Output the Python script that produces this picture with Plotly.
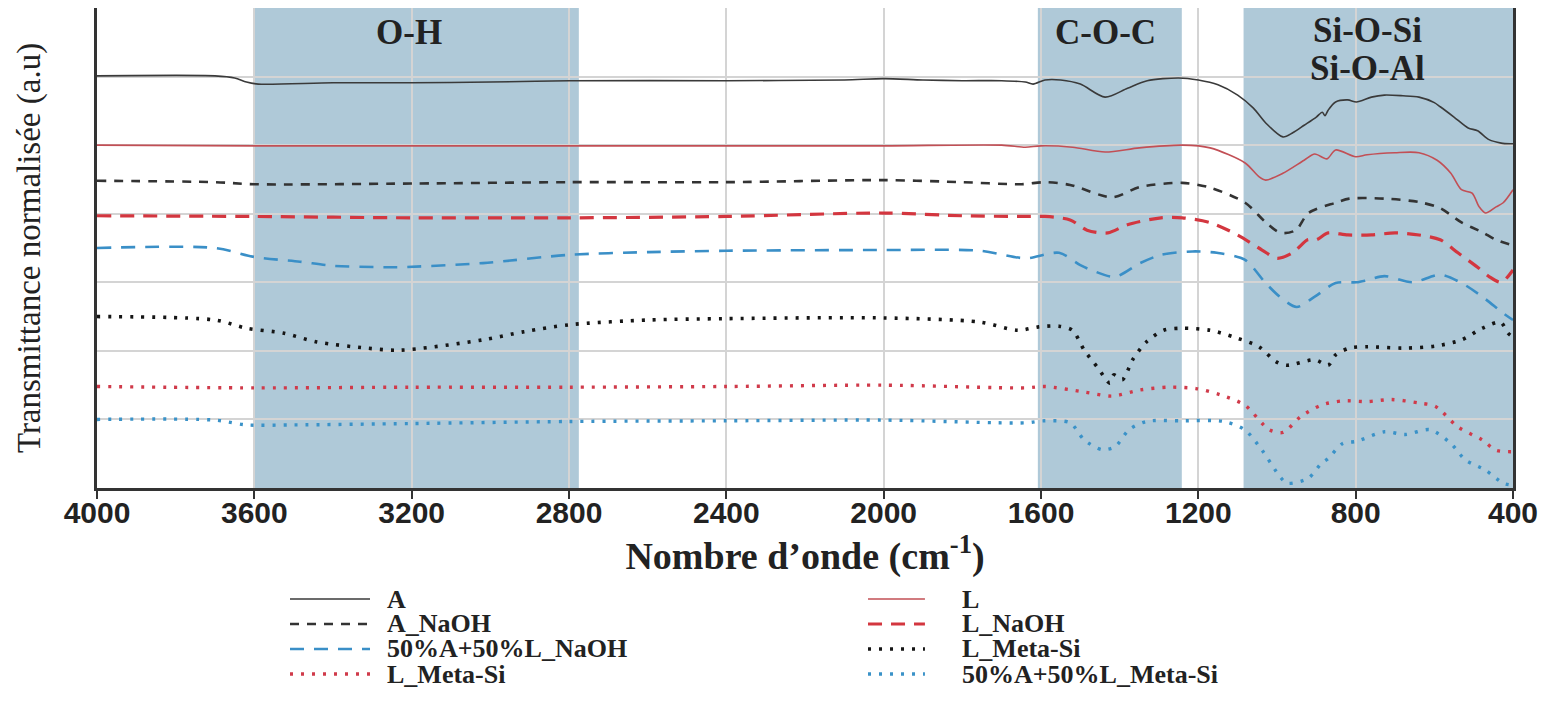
import plotly.graph_objects as go

# ---------------- data (wavenumber cm-1, normalised transmittance, offset spectra) -------------
wn_A = [4000, 3700, 3650, 3620, 3590, 3400, 3200, 3000, 2800, 2400, 2100, 2000, 1900, 1800, 1700,
        1640, 1620, 1590, 1550, 1500, 1437, 1380, 1330, 1250, 1200, 1150, 1100, 1060, 1028, 985,
        960, 931, 900, 885, 878, 870, 851, 820, 798, 760, 727, 680, 639, 600, 585, 550, 514, 490,
        461, 430, 407, 400]
t_A = [6.01, 6.01, 5.98, 5.92, 5.89, 5.91, 5.91, 5.92, 5.94, 5.94, 5.95, 5.97, 5.95, 5.94, 5.94,
       5.92, 5.89, 5.95, 5.95, 5.89, 5.70, 5.83, 5.94, 5.98, 5.95, 5.88, 5.73, 5.54, 5.32, 5.12,
       5.18, 5.29, 5.41, 5.48, 5.43, 5.51, 5.63, 5.66, 5.63, 5.70, 5.73, 5.72, 5.70, 5.62, 5.56,
       5.41, 5.25, 5.21, 5.08, 5.03, 5.02, 5.02]

wn_L = [4000, 3600, 3000, 2400, 2000, 1700, 1640, 1600, 1520, 1437, 1350, 1241, 1170, 1081, 1046,
        1029, 985, 931, 904, 873, 851, 800, 771, 700, 639, 593, 558, 531, 504, 486, 470, 443, 425,
        400]
t_L = [5.00, 4.99, 4.99, 4.99, 4.99, 5.00, 4.97, 4.99, 4.97, 4.90, 4.96, 5.00, 4.96, 4.74, 4.54,
       4.49, 4.59, 4.78, 4.87, 4.80, 4.93, 4.83, 4.86, 4.89, 4.89, 4.78, 4.59, 4.35, 4.30, 4.10,
       4.01, 4.10, 4.16, 4.35]

wn_ANa = [4000, 3700, 3600, 3200, 2800, 2400, 2000, 1800, 1650, 1590, 1526, 1419, 1348, 1241,
          1170, 1081, 1028, 991, 952, 920, 851, 816, 727, 639, 585, 530, 478, 443, 400]
t_ANa = [4.48, 4.46, 4.43, 4.44, 4.46, 4.46, 4.49, 4.46, 4.43, 4.46, 4.42, 4.24, 4.39, 4.45,
         4.38, 4.16, 3.87, 3.72, 3.76, 4.01, 4.16, 4.22, 4.22, 4.17, 4.08, 3.87, 3.73, 3.62, 3.54]

wn_LNa = [4000, 3600, 3200, 2800, 2400, 2000, 1800, 1650, 1590, 1526, 1483, 1430, 1380, 1295,
          1241, 1170, 1100, 1038, 1000, 960, 922, 900, 870, 820, 760, 700, 639, 585, 540, 490,
          460, 430, 400]
t_LNa = [3.97, 3.96, 3.94, 3.94, 3.96, 4.01, 3.97, 3.96, 3.96, 3.91, 3.76, 3.72, 3.84, 3.94,
         3.94, 3.87, 3.69, 3.47, 3.35, 3.43, 3.62, 3.62, 3.72, 3.69, 3.69, 3.72, 3.69, 3.62, 3.43,
         3.22, 3.08, 3.00, 3.18]

wn_ALNa = [4000, 3700, 3600, 3484, 3400, 3273, 3230, 3019, 2800, 2597, 2400, 2000, 1755, 1670,
           1633, 1554, 1500, 1473, 1412, 1348, 1295, 1215, 1153, 1082, 1029, 993, 950, 904, 851,
           798, 771, 727, 656, 585, 531, 478, 425, 400]
t_ALNa = [3.50, 3.50, 3.37, 3.30, 3.24, 3.22, 3.22, 3.28, 3.40, 3.44, 3.46, 3.47, 3.46, 3.37,
          3.35, 3.43, 3.25, 3.18, 3.08, 3.28, 3.40, 3.45, 3.43, 3.33, 2.99, 2.79, 2.64, 2.79, 2.99,
          3.00, 3.03, 3.09, 3.00, 3.11, 2.99, 2.79, 2.55, 2.45]

wn_LMk = [4000, 3700, 3620, 3527, 3441, 3314, 3230, 3019, 2914, 2800, 2597, 2400, 2000, 1755,
          1659, 1606, 1554, 1520, 1490, 1455, 1425, 1415, 1393, 1367, 1332, 1288, 1241, 1170,
          1109, 1046, 1002, 975, 904, 870, 851, 816, 770, 680, 597, 531, 478, 432, 413, 400]
t_LMk = [2.50, 2.45, 2.33, 2.26, 2.13, 2.04, 2.01, 2.16, 2.28, 2.38, 2.45, 2.47, 2.48, 2.42,
         2.30, 2.35, 2.36, 2.30, 2.01, 1.75, 1.53, 1.65, 1.58, 1.87, 2.13, 2.30, 2.33, 2.30,
         2.20, 2.06, 1.84, 1.79, 1.87, 1.79, 1.94, 2.04, 2.06, 2.04, 2.07, 2.16, 2.33, 2.42,
         2.26, 2.20]

wn_LMr = [4000, 3600, 3200, 2800, 2400, 2000, 1640, 1590, 1490, 1419, 1348, 1277, 1206, 1145,
          1082, 1020, 985, 940, 887, 833, 771, 709, 639, 597, 540, 478, 443, 400]
t_LMr = [1.48, 1.46, 1.47, 1.47, 1.48, 1.50, 1.46, 1.48, 1.40, 1.34, 1.43, 1.47, 1.45, 1.36,
         1.21, 0.85, 0.81, 1.04, 1.21, 1.27, 1.26, 1.29, 1.24, 1.19, 0.89, 0.70, 0.55, 0.53]

wn_ALM = [4000, 3700, 3620, 3500, 3200, 2800, 2400, 2000, 1640, 1590, 1526, 1490, 1445, 1412,
          1376, 1332, 1241, 1135, 1082, 1038, 993, 975, 921, 887, 870, 833, 798, 727, 674, 611,
          558, 521, 470, 425, 400]
t_ALM = [1.00, 0.99, 0.92, 0.92, 0.94, 0.97, 0.98, 0.99, 0.95, 0.98, 0.95, 0.70, 0.56, 0.60,
         0.85, 0.97, 0.98, 0.97, 0.85, 0.55, 0.17, 0.07, 0.14, 0.36, 0.43, 0.65, 0.68, 0.82,
         0.78, 0.85, 0.65, 0.41, 0.26, 0.07, 0.04]

series_names = ["A", "L", "A_NaOH", "L_NaOH", "50%A+50%L_NaOH", "L_Meta-Si", "L_Meta-Si",
                "50%A+50%L_Meta-Si"]

band_ranges = [(3600, 2775), (1608, 1242), (1085, 400)]
band_labels = ["O-H", "C-O-C", "Si-O-Si", "Si-O-Al"]
band_label_x = [3207, 1437, 769, 769]
band_label_y = [0.948, 0.948, 0.954, 0.875]
x_ticks = [4000, 3600, 3200, 2800, 2400, 2000, 1600, 1200, 800, 400]

# ---------------- styles ----------------
styles = [
    dict(color="#3a3a3a", width=1.6, dash="solid"),
    dict(color="#c24f55", width=1.6, dash="solid"),
    dict(color="#333333", width=2.6, dash="9px,8px"),
    dict(color="#d3363f", width=3.2, dash="14px,9px"),
    dict(color="#3a8fc7", width=2.6, dash="14px,10px"),
    dict(color="#151515", width=3.6, dash="3px,8px"),
    dict(color="#d03a4a", width=3.4, dash="3px,8px"),
    dict(color="#3a92c8", width=3.4, dash="3px,8px"),
]
xs_list = [wn_A, wn_L, wn_ANa, wn_LNa, wn_ALNa, wn_LMk, wn_LMr, wn_ALM]
ys_list = [t_A, t_L, t_ANa, t_LNa, t_ALNa, t_LMk, t_LMr, t_ALM]

fig = go.Figure()
for xs, ys, ln, name in zip(xs_list, ys_list, styles, series_names):
    fig.add_trace(go.Scatter(x=xs, y=ys, mode="lines", name=name, showlegend=False,
                             line=dict(shape="spline", smoothing=0.8, **ln)))

for x0, x1 in band_ranges:
    fig.add_shape(type="rect", xref="x", yref="paper", x0=x0, x1=x1, y0=0, y1=1,
                  fillcolor="#afc9d8", line=dict(width=0), layer="below")

serif = "Liberation Serif, Times New Roman, serif"
for lx, ly, lt in zip(band_label_x, band_label_y, band_labels):
    fig.add_annotation(x=lx, y=ly, xref="x", yref="paper", text=lt, showarrow=False,
                       xanchor="center", yanchor="middle",
                       font=dict(family=serif, size=35, color="#222", weight="bold"))

# ---------------- legend (two columns, four rows, below the axis title) ----------------
leg_col_x = [(0.1363, 0.1928, 0.2034), (0.5445, 0.5847, 0.6095)]   # sample start, end, text
leg_row_y = [-0.2313, -0.2833, -0.3354, -0.3875]
for i, (ln, name) in enumerate(zip(styles, series_names)):
    col = i % 2
    row = i // 2
    x0, x1, xt = leg_col_x[col]
    yy = leg_row_y[row]
    fig.add_shape(type="line", xref="paper", yref="paper", x0=x0, x1=x1, y0=yy, y1=yy,
                  line=dict(color=ln["color"], width=ln["width"], dash=ln["dash"]))
    fig.add_annotation(x=xt, y=yy, xref="paper", yref="paper", text=name, showarrow=False,
                       xanchor="left", yanchor="middle",
                       font=dict(family=serif, size=26, color="#222", weight="bold"))

# the page body adds an 8px offset, so the figure is 8px smaller than the window
fig.update_layout(
    width=1540, height=694,
    margin=dict(l=89, r=35, t=0, b=214),
    paper_bgcolor="white", plot_bgcolor="white",
    showlegend=False,
    xaxis=dict(range=[4000, 400], tickvals=x_ticks, ticktext=[str(v) for v in x_ticks],
               showgrid=True, gridcolor="#d4d4d4", gridwidth=1.5,
               showline=True, linecolor="#333333", linewidth=3, mirror=True,
               ticks="outside", ticklen=8, tickwidth=2, tickcolor="#333333",
               ticklabelstandoff=-12,
               tickfont=dict(family="Liberation Sans, Arial, sans-serif", size=30,
                             color="#222", weight="bold"),
               zeroline=False, automargin=False,
               title=dict(text="Nombre d\u2019onde (cm<sup>-1</sup>)", standoff=0,
                          font=dict(family=serif, size=38, color="#222", weight="bold"))),
    yaxis=dict(range=[0, 7], dtick=1, showticklabels=False, ticks="",
               showgrid=True, gridcolor="#d4d4d4", gridwidth=1.5,
               showline=True, linecolor="#333333", linewidth=3, mirror=True,
               zeroline=False, automargin=False,
               title=dict(text="Transmittance normalisée (a.u)", standoff=44,
                          font=dict(family=serif, size=33, color="#222"))),
)

fig.write_html("out.html")
